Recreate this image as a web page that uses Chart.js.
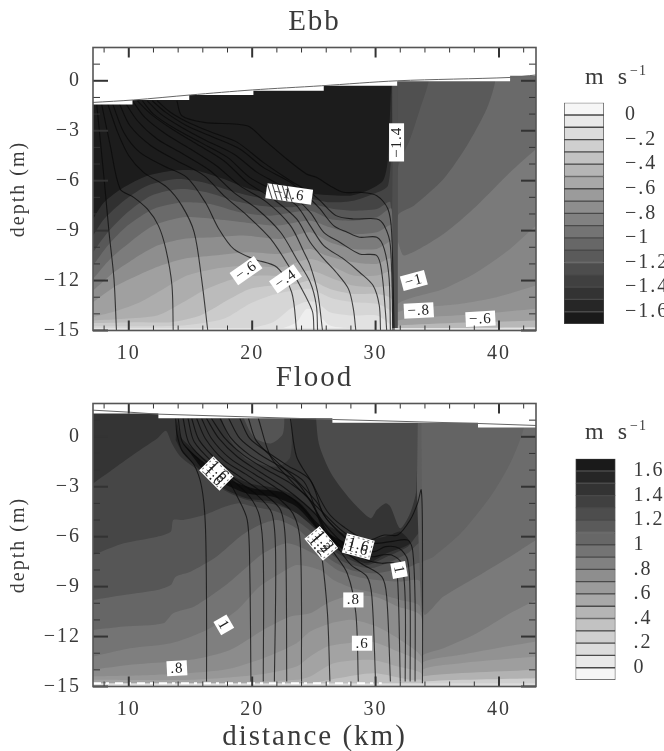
<!DOCTYPE html>
<html>
<head>
<meta charset="utf-8">
<title>Ebb and Flood</title>
<style>
  html, body { margin: 0; padding: 0; background: #fff; }
  body { position: relative; width: 664px; height: 751px; overflow: hidden; }
  canvas { position: absolute; filter: blur(0.45px); }
</style>
<script src="https://cdn.jsdelivr.net/npm/chart.js@4/dist/chart.umd.min.js"></script>
</head>
<body>
<canvas id="ebb" width="556" height="375" style="left:0px;top:0px"></canvas>
<canvas id="flood" width="556" height="399" style="left:0px;top:356px"></canvas>
<canvas id="ebbBar" width="109" height="290" style="left:555px;top:60px"></canvas>
<canvas id="floodBar" width="109" height="290" style="left:555px;top:415px"></canvas>
<script>
// axes
const xTicks = [10, 20, 30, 40];
const xMinor = [8, 12, 14, 16, 18, 22, 24, 26, 28, 32, 34, 36, 38, 42];
const yTicks = [-15, -12, -9, -6, -3, 0];
const yMinor = [-14, -13, -11, -10, -8, -7, -5, -4, -2, -1, 1];

// colour bars: band edges and labels
const barEdges = [0.1, 0, -0.1, -0.2, -0.3, -0.4, -0.5, -0.6, -0.7, -0.8, -0.9, -1, -1.1, -1.2, -1.3, -1.4, -1.5, -1.6, -1.7];
const barGreys = ['#f6f6f6', '#e9e9e9', '#dcdcdc', '#cfcfcf', '#c2c2c2', '#b5b5b5', '#a8a8a8', '#9b9b9b', '#8e8e8e', '#818181', '#747474', '#676767', '#5a5a5a', '#4d4d4d', '#404040', '#333333', '#262626', '#1a1a1a'];
const ebbBarTicks = [0, -0.2, -0.4, -0.6, -0.8, -1, -1.2, -1.4, -1.6];
const ebbBarLabels = ['0', '−.2', '−.4', '−.6', '−.8', '−1', '−1.2', '−1.4', '−1.6'];
const floodBarTicks = [1.6, 1.4, 1.2, 1, 0.8, 0.6, 0.4, 0.2, 0];
const floodBarLabels = ['1.6', '1.4', '1.2', '1', '.8', '.6', '.4', '.2', '0'];

// Ebb: free surface and the stepped top of the model grid
const ebbSurface = [[7.1, -1.3], [10.4, -1.15], [15, -0.85], [20, -0.55], [25.6, -0.3], [31.75, 0], [40.9, 0.2], [43, 0.35]];
const ebbAir = [[7.1, 2], [43, 2], [43, 0.3], [40.9, 0.3], [40.9, -0.02], [31.75, -0.02], [31.75, -0.3], [25.8, -0.3], [25.8, -0.6], [20.1, -0.6], [20.1, -0.86], [14.9, -0.86], [14.9, -1.16], [10.3, -1.16], [10.3, -1.42], [7.1, -1.42]];

// Ebb: filled bands, seaward side of the front (x > 31.7)
const ebbRightBands = [
  [[31.6, 2], [43, 2], [43, -15], [31.6, -15]],
  [[34.3, 2], [34.3, 0], [33.6, -1.7], [32.8, -3.5], [31.8, -5.3], [31.6, -15], [43, -15], [43, 2]],
  [[39.7, 2], [39.7, 0], [39, -1.7], [37.4, -3.9], [35.5, -5.9], [33.1, -7.5], [31.8, -8.1], [31.6, -15], [43, -15], [43, 2]],
  [[43, -4.1], [40.9, -5.5], [38.2, -7.5], [35.5, -9.2], [32.3, -10.5], [31.8, -9.7], [31.6, -15], [43, -15]],
  [[43, -8.7], [40.9, -10.1], [38.2, -11.5], [35.5, -12.5], [31.8, -13.4], [31.6, -15], [43, -15]],
  [[43, -12.3], [39.8, -13], [36.9, -13.4], [31.8, -13.9], [31.6, -15], [43, -15]],
  [[43, -13.7], [38.7, -14], [31.8, -14.4], [31.6, -15], [43, -15]],
  [[43, -14.4], [31.8, -14.7], [31.6, -15], [43, -15]],
  [[43, -14.8], [31.8, -14.9], [31.6, -15], [43, -15]]
];
const ebbRightGreys = ['#505050', '#5a5a5a', '#6a6a6a', '#7a7a7a', '#868686', '#929292', '#a0a0a0', '#b8b8b8', '#dcdcdc'];

// Ebb: filled bands, landward side of the front, from the outer shell inward
const ebbLeftBands = [
  [[7.1, 2], [31.4, 2], [31.4, -15], [7.1, -15]],
  [[7.1, -8.3], [8, -7.3], [9.6, -6.4], [11.5, -5.7], [13.6, -5.4], [15.5, -5.4], [17.7, -5.9], [19.8, -6.5], [22, -6.8], [24.7, -6.8], [27.9, -6.9], [29.3, -6.6], [30.6, -6], [31, -4.7], [31.3, -0.1], [31.6, -15], [7.1, -15]],
  [[7.1, -9.3], [8, -8.3], [9.6, -7.2], [11.5, -6.3], [13.9, -5.9], [16, -6.1], [18.2, -6.6], [20.4, -7], [22.5, -7.2], [24.7, -7.1], [26.3, -7.3], [28.2, -7.2], [29.8, -6.8], [31, -6.3], [31.3, -3.9], [31.6, -15], [7.1, -15]],
  [[7.1, -10.3], [8.3, -9.1], [9.9, -7.9], [11.8, -6.9], [14.2, -6.5], [16.3, -6.7], [18.5, -7.2], [20.6, -7.5], [23.1, -7.6], [24.7, -7.4], [26.6, -7.7], [28.2, -7.8], [30.1, -7.7], [31.2, -7.3], [31.6, -15], [7.1, -15]],
  [[7.1, -11.1], [8.3, -9.9], [9.9, -8.7], [12, -7.7], [14.4, -7.3], [16.6, -7.4], [19, -7.9], [21.5, -8.1], [24.7, -7.8], [26.3, -8.3], [28.2, -8.4], [30.1, -8.2], [31.3, -7.7], [31.6, -15], [7.1, -15]],
  [[7.1, -11.9], [8.5, -10.7], [10.1, -9.7], [12, -8.7], [14.4, -8.2], [16.9, -8.3], [19.3, -8.5], [22, -8.7], [24.7, -8.4], [26.3, -8.8], [28.2, -9.2], [30.1, -9.1], [31.3, -8.7], [31.6, -15], [7.1, -15]],
  [[7.1, -12.6], [8.8, -11.5], [10.4, -10.7], [12.3, -9.9], [14.4, -9.5], [16.9, -9.4], [19.3, -9.3], [22.3, -9.5], [24.7, -9.1], [26.3, -9.7], [28.2, -10.1], [30.1, -10.1], [31.3, -9.7], [31.6, -15], [7.1, -15]],
  [[7.1, -13.3], [8.8, -12.4], [10.7, -11.7], [12.6, -11.1], [14.4, -10.7], [16.9, -10.5], [19.6, -10.3], [22.3, -10.4], [24.7, -10.1], [26, -10.5], [28.2, -10.9], [30.1, -11], [31.3, -10.7], [31.6, -15], [7.1, -15]],
  [[7.1, -14.2], [9.1, -13.8], [10.9, -13.3], [12.8, -12.5], [14.7, -11.7], [16.9, -11.3], [19.6, -11.1], [22.3, -11.2], [24.7, -10.7], [26.3, -11.1], [28.2, -11.7], [30.1, -11.7], [31.3, -11.5], [31.6, -15], [7.1, -15]],
  [[7.1, -14.4], [9.6, -14.3], [12.3, -14.1], [14.4, -13.3], [16.3, -12.5], [18.5, -11.9], [20.6, -11.7], [22.8, -11.7], [24.7, -11.4], [26.6, -11.9], [28.2, -12.3], [30.1, -12.4], [31.3, -12.4], [31.6, -15], [7.1, -15]],
  [[7.1, -14.55], [10.7, -14.5], [13.4, -14.5], [15.8, -14.1], [18.2, -13.1], [19.8, -12.5], [21.7, -12.3], [23.6, -12.2], [24.7, -12], [26.3, -12.5], [28.2, -12.8], [30.1, -12.8], [31.3, -13.1], [31.6, -15], [7.1, -15]],
  [[7.1, -14.75], [14.4, -14.7], [17.7, -14.3], [19.8, -13.4], [21.5, -12.9], [23.3, -12.6], [24.7, -12.5], [26.6, -13.1], [28.2, -13.3], [30.1, -13.4], [31.3, -13.9], [31.6, -15], [7.1, -15]],
  [[12, -14.95], [19, -14.95], [21.7, -14.5], [23.1, -13.7], [24.2, -13.3], [25.2, -13.3], [26.3, -13.9], [28.2, -14.1], [30.1, -14.1], [31.3, -14.7], [31.6, -15], [12, -15]],
  [[22, -15], [23.6, -14.5], [24.4, -13.7], [25.2, -13.9], [26.3, -14.7], [28.5, -14.9], [29, -15]]
];
const ebbLeftGreys = ['#1c1c1c', '#303030', '#444444', '#585858', '#6a6a6a', '#7c7c7c', '#8e8e8e', '#a0a0a0', '#adadad', '#bbbbbb', '#cbcbcb', '#d6d6d6', '#e2e2e2', '#eeeeee'];
const ebbFront = [[31.35, 2], [31.8, 2], [31.8, -15], [31.35, -15]];
const ebbSeabed = [[7.1, -14.85], [43, -14.85], [43, -15], [7.1, -15]];

// Ebb: contour lines
const ebbContours = [
  [[7.4, -1.4], [8, -5.9], [8.4, -9.1], [8.8, -11.9], [9, -15]],
  [[7.8, -1.4], [8.5, -3.9], [9.3, -6.5], [10.4, -7], [11.5, -7.7], [12.4, -8.7], [13, -10.1], [13.5, -12.3], [13.6, -15]],
  [[8.3, -1.4], [9.1, -3.1], [10, -4.5], [11.2, -5.5], [13.1, -6.4], [14.3, -7.5], [15.3, -9.1], [15.9, -11.9], [16.4, -15]],
  [[8.7, -1.4], [9.6, -3.1], [10.9, -4.3], [12.8, -5.1], [14.7, -5.8], [16.2, -7.3], [17.3, -8.9], [18.5, -10.1], [20.1, -10.7], [22, -11.2], [23.2, -12.7], [23.6, -15]],
  [[9.2, -1.3], [10.1, -2.7], [11.8, -3.9], [13.9, -4.8], [16.1, -5.7], [17.7, -6.9], [19.6, -8.1], [21.5, -9.5], [23.1, -11.3], [24.3, -12.9], [24.9, -13.9], [25, -15]],
  [[9.7, -1.3], [10.7, -2.4], [12.3, -3.5], [14.4, -4.4], [16.6, -5.4], [18.5, -6.7], [20.4, -7.7], [22.3, -9.1], [23.6, -10.7], [24.7, -12.1], [25.2, -13.5], [25.3, -15]],
  [[10.3, -1.2], [11.3, -2.2], [13, -3.2], [15, -4.1], [17.1, -5.1], [19, -6.3], [21.2, -7.3], [23.1, -8.7], [24.2, -10.3], [24.7, -11.1], [25.3, -12.7], [25.7, -15]],
  [[10.7, -1.2], [11.8, -2], [13.5, -2.9], [15.5, -3.8], [17.7, -4.8], [19.6, -6.1], [21.7, -7.1], [23.6, -8.3], [24.7, -9.7], [25.8, -10.7], [26.8, -11.5], [27.8, -12.5], [28.2, -13.7], [28.4, -15]],
  [[11.1, -1.2], [12, -2], [13.8, -2.9], [15.8, -3.7], [18, -4.6], [19.8, -5.8], [22, -6.7], [23.6, -7.5], [24.7, -8.7], [25.8, -9.9], [27.4, -10.7], [28.7, -11.5], [29.8, -12.3], [30.3, -13.5], [30.4, -15]],
  [[11.5, -1.2], [12.6, -2], [14.3, -2.8], [16.3, -3.6], [18.5, -4.4], [20.4, -5.5], [22.5, -6.4], [24.7, -7.9], [25.8, -9.1], [27.1, -9.7], [28.7, -10.4], [30.1, -10.5], [30.5, -11.5], [30.8, -13.9], [30.9, -15]],
  [[11.9, -1.2], [13, -1.9], [14.7, -2.7], [16.9, -3.4], [19, -4.1], [20.9, -5.2], [23.1, -6.1], [24.7, -7.1], [25.5, -7.7], [26.6, -8.7], [27.7, -9.1], [28.7, -9.4], [30.1, -9.4], [30.7, -10.1], [31.1, -11.9], [31.2, -15]],
  [[12.3, -1.2], [13.4, -1.9], [15.1, -2.6], [17.1, -3.2], [18.8, -3.7], [20.9, -4.9], [23.1, -6], [24.7, -6.7], [25.5, -7.2], [26.8, -8.1], [28.2, -8.3], [30.1, -8.3], [30.7, -8.7], [31.2, -9.9], [31.4, -15]],
  [[13.9, -1.2], [14.3, -2.1], [16.1, -2.5], [19.6, -2.7], [20.9, -3.5], [22.8, -4.7], [24.4, -5.6], [25.2, -5.8], [26.3, -6.3], [27.4, -6.7], [28.7, -6.7], [30.1, -6.9], [31, -7.7], [31.3, -9.1], [31.5, -15]]
];

// Flood: free surface and the stepped top of the model grid
const floodSurface = [[7.1, 1.6], [10, 1.48], [12.4, 1.36], [26.5, 1.04], [38.3, 0.8], [43, 0.68]];
const floodAir = [[7.1, 2], [43, 2], [43, 0.56], [38.3, 0.56], [38.3, 0.84], [26.5, 0.84], [26.5, 1.12], [12.4, 1.12], [12.4, 1.4], [7.1, 1.4]];

// Flood: filled bands, seaward side of the front (x > 33.7)
const floodRightBands = [
  [[33.7, 2], [43, 2], [43, -15], [33.7, -15]],
  [[42, 2], [42, 0.5], [40.9, -1.6], [39.3, -3.6], [36.9, -5.8], [34.7, -7.2], [33.75, -7.6], [33.75, -15], [43, -15], [43, 2]],
  [[43, -6.2], [40.9, -7.2], [38.2, -8.4], [35.5, -9.6], [34, -10.7], [33.75, -9.8], [33.75, -15], [43, -15]],
  [[43, -9.8], [40.9, -10.6], [38.2, -11.8], [35.5, -12.7], [33.75, -13.2], [33.75, -15], [43, -15]],
  [[43, -12.3], [39.8, -12.7], [36.9, -13.1], [33.75, -13.6], [33.75, -15], [43, -15]],
  [[43, -13.2], [36.9, -13.6], [33.75, -14], [33.75, -15], [43, -15]],
  [[43, -14], [33.75, -14.4], [33.75, -15], [43, -15]],
  [[43, -14.5], [33.75, -14.7], [33.75, -15], [43, -15]]
];
const floodRightGreys = ['#646464', '#6c6c6c', '#7a7a7a', '#868686', '#929292', '#9e9e9e', '#b2b2b2', '#cfcfcf'];

// Flood: filled bands, landward side, from the top of the water column down
const floodLeftBands = [
  [[7.1, 2], [33.7, 2], [33.7, -15], [7.1, -15]],
  [[7.1, -2.8], [8.8, -1.9], [10.7, -0.9], [12.3, -0.1], [13, 0.36], [13.5, -0.4], [14.2, -1.2], [15.8, -2.1], [17.7, -3.2], [19.6, -3.8], [22, -4.1], [24.2, -4.8], [25.5, -5.8], [25.8, -6.4], [27.4, -7.2], [29.3, -7.7], [30.9, -7.2], [32.6, -6.6], [33.6, -5.8], [33.7, -15], [7.1, -15]],
  [[7.1, -7.1], [9.6, -6.4], [12.3, -6], [13.4, -5.7], [13.6, -5], [14.4, -5], [16.1, -4.7], [17.4, -4.3], [18.8, -4], [20.1, -4.2], [22, -4.5], [23.9, -5.2], [25.5, -6.2], [26.1, -6.9], [27.7, -7.6], [29.6, -7.9], [30.9, -7.6], [32.6, -7], [33.6, -6.4], [33.7, -15], [7.1, -15]],
  [[7.1, -9.8], [9.6, -9.5], [12.3, -9.2], [13.4, -8.9], [13.8, -8.4], [15, -8.1], [17.1, -7.2], [19, -6], [20.6, -5.3], [22, -5], [23.6, -5.5], [25.2, -6.6], [26.4, -7.4], [28, -8], [29.9, -8.2], [31.5, -8], [32.8, -7.8], [33.6, -7.6], [33.7, -15], [7.1, -15]],
  [[7.1, -11.6], [9.6, -11.4], [12.8, -11.2], [13.6, -10.6], [15.3, -10.2], [17.7, -9], [19.6, -7.8], [20.9, -7], [22.8, -6.4], [24.4, -6.8], [25.8, -7.4], [26.9, -8], [28.5, -8.4], [30.1, -8.6], [32, -8.7], [33.6, -8.7], [33.7, -15], [7.1, -15]],
  [[7.1, -13.2], [10.1, -12.7], [13.4, -12.4], [16.3, -11.6], [18.8, -10.4], [20.6, -9], [22.3, -8.2], [23.6, -7.7], [25.5, -8], [26.6, -8.6], [28.2, -9.1], [30.1, -9.4], [32, -9.8], [33.6, -10.2], [33.7, -15], [7.1, -15]],
  [[7.1, -14], [10.1, -13.7], [15, -13.4], [18.2, -12.8], [20.9, -11.6], [23.1, -10.8], [24.7, -10.6], [26.1, -10], [27.7, -9.6], [29.9, -9.6], [31.8, -10.2], [33.7, -10.8], [33.7, -15], [7.1, -15]],
  [[7.1, -14.4], [12.3, -14.3], [17.7, -14], [20.9, -13.3], [23.6, -12.4], [24.7, -11.7], [26.4, -11.2], [28.2, -11], [30.1, -11.4], [32, -12.2], [33.7, -13.2], [33.7, -15], [7.1, -15]],
  [[7.1, -14.6], [15, -14.6], [20.4, -14.3], [23.6, -13.8], [24.7, -13.2], [26.1, -12.6], [27.7, -12.4], [29.6, -12.3], [31.5, -12.8], [33.7, -13.6], [33.7, -15], [7.1, -15]],
  [[7.1, -14.8], [17.7, -14.8], [23.6, -14.6], [24.7, -14.4], [26.6, -13.6], [29.6, -13.4], [31.8, -13.8], [33.7, -14.2], [33.7, -15], [7.1, -15]],
  [[7.1, -14.85], [24.7, -14.8], [26.9, -14.5], [29.9, -14.2], [32.8, -14.6], [33.7, -14.6], [33.7, -15], [7.1, -15]]
];
const floodLeftGreys = ['#343434', '#464646', '#565656', '#666666', '#747474', '#7f7f7f', '#8c8c8c', '#979797', '#a3a3a3', '#afafaf', '#c0c0c0'];

// Flood: patches above the jet and the jet core
const floodUpperBands = [
  [[17.1, 2], [18.2, -0.2], [19.6, -1.4], [22, -1.8], [23.1, -1.2], [23.2, 2]],
  [[18.8, 2], [20.1, 0], [21.5, -0.4], [22.5, 0.2], [22.6, 2]],
  [[25.1, 2], [25.4, -0.4], [26.4, -2.2], [28, -3.8], [29.6, -4.9], [30.1, -4.4], [30.8, -4], [31.2, -4.2], [32, -5.5], [32.8, -4.6], [33.3, -3.2], [33.4, 2]],
  [[33.4, 2], [33.75, 2], [33.75, -10.5], [33.5, -6.5], [33.35, -3.2]],
  [[13.9, 1], [14.2, 0], [15, -0.6], [16.3, -1.4], [18, -2.2], [19.8, -2.8], [22, -3.1], [23.6, -3.6], [25.2, -4.6], [26.1, -5.3], [27.4, -5.8], [29.3, -6.2], [31.2, -5.9], [32, -5.7], [32.8, -6.4], [30.9, -7], [29.3, -7.6], [27.4, -7], [25.8, -6.2], [25.2, -5.6], [23.6, -4.6], [21.7, -3.9], [19.6, -3.7], [17.7, -3.1], [15.8, -2], [14.4, -1], [13.8, -0.2]],
  [[14.4, -0.4], [16.1, -1.6], [18.2, -2.6], [20.1, -3.1], [22.3, -3.3], [23.9, -4], [25.2, -5.1], [26.4, -5.9], [27.7, -6.4], [29.3, -7], [27.4, -6.7], [25.8, -6], [25.2, -5.5], [23.6, -4.2], [21.7, -3.6], [19.6, -3.4], [17.7, -2.8], [15.8, -1.8]]
];
const floodUpperGreys = ['#404040', '#545454', '#4c4c4c', '#5e5e5e', '#232323', '#0e0e0e'];
const floodSeabed = [[7.1, -14.8], [43, -14.8], [43, -15], [7.1, -15]];
const floodSeabedDashes = [[7.1, -14.8], [30.5, -14.8]];

// Flood: contour lines
const floodContours = [
  [[13.8, 1.1], [13.9, 0.2], [14.3, -0.8], [15.3, -1.7], [15.9, -3], [16.2, -5.2], [16.3, -9.8], [16.3, -14.7]],
  [[14, 1.1], [14.4, -0.4], [16.3, -1.7], [18, -2.6], [18.8, -3.6], [19.6, -5], [19.8, -7.8], [19.9, -14.7]],
  [[14.4, 1.1], [14.9, -0.4], [16.6, -1.7], [18.2, -2.5], [19.8, -3.6], [20.6, -4.8], [20.9, -7.2], [20.9, -14.7]],
  [[14.8, 1.1], [15.3, -0.3], [16.9, -1.6], [18.5, -2.5], [20.4, -3.5], [21.6, -4.6], [21.9, -7.2], [21.8, -14.7]],
  [[15.1, 1.1], [15.7, -0.2], [17.3, -1.5], [19, -2.4], [20.9, -3.4], [22.3, -4.4], [22.7, -6.4], [22.8, -14.7]],
  [[15.5, 1.1], [16.2, -0.1], [17.7, -1.4], [19.6, -2.3], [21.5, -3.3], [23.3, -4.6], [23.9, -6.4], [24, -14.7]],
  [[15.9, 1.1], [16.7, -0.1], [18.2, -1.3], [20.1, -2.2], [22, -3.1], [23.7, -4], [25.2, -5.4], [25.6, -6.9], [26.1, -10.6], [26.3, -14.7]],
  [[16.3, 1.1], [17.3, -0.1], [18.8, -1.2], [20.6, -2.1], [22.5, -3], [24.2, -4], [25.5, -5], [26.4, -6.7], [27.7, -8.2], [28.4, -10.6], [28.6, -14.7]],
  [[16.7, 1.1], [17.8, -0.1], [19.3, -1.1], [21.2, -2], [23.1, -2.8], [24.7, -3.8], [25.8, -5.6], [26.7, -6.4], [28, -7.7], [29.3, -8.4], [29.7, -9.6], [30, -14.7]],
  [[17.4, 1.1], [18.3, -0.1], [19.8, -1.1], [21.7, -1.9], [23.6, -2.7], [25.2, -4.5], [26.1, -5.7], [27.4, -6.8], [28.8, -7.6], [30.5, -8.4], [30.9, -9.6], [31.2, -14.7]],
  [[18.1, 1.1], [19, -0.1], [20.5, -1], [22.3, -1.8], [24.2, -2.7], [25.3, -4.6], [26.4, -5.7], [27.7, -6.6], [29.3, -7.4], [30.5, -7.6], [31.5, -7.6], [31.8, -8.8], [32, -14.7]],
  [[19, 1.1], [19.8, -0.1], [21.2, -0.9], [22.8, -1.7], [24.7, -2.6], [25.8, -4.7], [27.2, -5.8], [28.5, -6.6], [29.7, -7.2], [30.5, -7.1], [31.3, -7.1], [32.1, -7.6], [32.4, -9.8], [32.4, -14.7]],
  [[19.7, 1.1], [20.3, -0.2], [21.7, -1.3], [23.3, -2.4], [25.2, -3.9], [26.1, -5], [27.4, -6], [28.8, -6.8], [29.9, -6.9], [30.8, -6.6], [31.9, -6.7], [32.6, -7.4], [32.8, -9.8], [32.8, -14.7]],
  [[20.5, 1.1], [21.5, -1.2], [23.1, -2.6], [24.7, -3.8], [25.8, -4.6], [27.2, -5.6], [28.5, -6.2], [29.9, -6.4], [31.2, -6.3], [32.6, -6.2], [33, -6.8], [33.2, -9.8], [33.2, -14.7]],
  [[23.1, 1.1], [23.6, -1.2], [24.8, -2.7], [26.1, -4.5], [27.4, -5.4], [29.3, -6.2], [30.7, -5.9], [31.8, -5.9], [32.8, -5], [33.4, -4], [33.7, -3.2], [33.8, -5.8], [33.8, -14.8]]
];

// contour labels: text, position in km and m, rotation on the page, how many labels pile up
const ebbLabelText = ['−.6', '−.4', '−1.6', '−1.4', '−1', '−.8', '−.6'];
const ebbLabelAt = [[19.5, -11.4], [22.7, -11.9], [23, -6.8], [31.7, -3.7], [33.1, -12], [33.5, -13.8], [38.5, -14.3]];
const ebbLabelTurn = [-35, -35, 8, -90, -15, -3, -3];
const ebbLabelPile = [1, 1, 1, 1, 1, 1, 1];
const ebbLabelHatch = [false, false, true, false, false, false, false];
const floodLabelText = ['1.6', '1.2', '1.6', '1', '.8', '.6', '1', '.8'];
const floodLabelAt = [[17.1, -2.2], [25.6, -6.4], [28.6, -6.6], [31.9, -8], [28.2, -9.8], [28.9, -12.4], [17.7, -11.3], [13.9, -13.9]];
const floodLabelTurn = [45, 50, 15, 80, 0, 0, 60, -3];
const floodLabelPile = [3, 3, 2, 1, 1, 1, 1, 1];
const floodLabelHatch = [false, false, false, false, false, false, false, false];

const serif = '"Liberation Serif", serif';
const ink = '#3a3a3a';
const spacing = '2px';

const widenText = {
  id: 'widenText',
  beforeLayout(chart) { chart.ctx.letterSpacing = spacing; },
  beforeDraw(chart) { chart.ctx.letterSpacing = spacing; }
};

function toPoints(list) {
  return list.map(([x, y]) => ({ x, y }));
}

// corners on the frame are tripled so the spline stays sharp there
function withCorners(list) {
  const out = [];
  list.forEach(p => {
    const corner = p[1] === -15 || p[1] === 2;
    out.push(p);
    if (corner) out.push(p, p);
  });
  return out;
}

function band(list, grey, smooth = 0.25) {
  return { data: toPoints(withCorners(list)), showLine: true, fill: 'shape', backgroundColor: grey, borderColor: grey, borderWidth: 0, pointRadius: 0, tension: smooth };
}

function line(list, colour, width, smooth = 0.3) {
  return { data: toPoints(list), showLine: true, fill: false, borderColor: colour, borderWidth: width, pointRadius: 0, tension: smooth };
}

// inward ticks, frame and the white contour labels on top of the field
function panelDressing(labelText, labelAt, labelTurn, labelPile, labelHatch) {
  return {
    id: 'panelDressing',
    afterDatasetsDraw(chart) {
      const { ctx, chartArea: a, scales: { x, y } } = chart;
      ctx.save();
      labelText.forEach((text, i) => {
        const px = x.getPixelForValue(labelAt[i][0]);
        const py = y.getPixelForValue(labelAt[i][1]);
        const pile = labelPile[i];
        ctx.save();
        ctx.translate(px, py);
        ctx.rotate(labelTurn[i] * Math.PI / 180);
        ctx.font = '15px ' + serif;
        ctx.letterSpacing = '1px';
        const w = ctx.measureText(text).width + 7 + (labelHatch[i] ? 8 : 0);
        const h = pile > 1 ? 20 : 15;
        ctx.fillStyle = '#fff';
        ctx.fillRect(-w / 2, -h / 2, w, h);
        ctx.fillStyle = '#222';
        ctx.textAlign = 'center';
        ctx.textBaseline = 'middle';
        for (let k = 0; k < pile; k++) {
          ctx.fillText(text, 0, 0.5 + (k - (pile - 1) / 2) * 4);
        }
        if (pile > 1) {
          ctx.strokeStyle = 'rgba(30,30,30,0.6)';
          ctx.lineWidth = 1;
          ctx.setLineDash([2, 3]);
          ctx.strokeRect(-w / 2 + 1.5, -h / 2 + 1.5, w - 3, h - 3);
          ctx.setLineDash([]);
        }
        if (labelHatch[i]) {
          ctx.strokeStyle = '#444';
          ctx.lineWidth = 1;
          for (let d = -w / 2; d < -3; d += 5) {
            ctx.beginPath();
            ctx.moveTo(d, -h / 2);
            ctx.lineTo(d + 7, h / 2);
            ctx.stroke();
          }
        }
        ctx.restore();
      });
      ctx.strokeStyle = '#333';
      const tick = (x0, y0, x1, y1, w) => {
        ctx.lineWidth = w;
        ctx.beginPath();
        ctx.moveTo(x0, y0);
        ctx.lineTo(x1, y1);
        ctx.stroke();
      };
      const vertical = (v, len, w) => {
        const p = x.getPixelForValue(v);
        tick(p, a.top, p, a.top + len, w);
        tick(p, a.bottom, p, a.bottom - len, w);
      };
      const horizontal = (v, len, w) => {
        const p = y.getPixelForValue(v);
        tick(a.left, p, a.left + len, p, w);
        tick(a.right, p, a.right - len, p, w);
      };
      xTicks.forEach(v => vertical(v, 10, 2));
      xMinor.forEach(v => vertical(v, 5, 1));
      yTicks.forEach(v => horizontal(v, 15, 2));
      yMinor.forEach(v => horizontal(v, 7, 1));
      ctx.strokeStyle = '#555';
      ctx.lineWidth = 1.6;
      ctx.strokeRect(a.left, a.top, a.right - a.left, a.bottom - a.top);
      ctx.restore();
    }
  };
}

function drawPanel(id, titleText, datasets, axisHeight, xTitle, dressing) {
  datasets.forEach((d, i) => { d.order = datasets.length - i; });
  return new Chart(document.getElementById(id), {
    type: 'scatter',
    data: { datasets },
    plugins: [widenText, dressing],
    options: {
      responsive: false,
      animation: false,
      events: [],
      layout: { padding: { right: 20 } },
      plugins: {
        legend: { display: false },
        tooltip: { enabled: false },
        title: {
          display: true,
          text: titleText,
          fullSize: false,
          color: ink,
          font: { family: serif, size: 29, weight: 'normal' },
          padding: { top: 4.6, bottom: 8.1 }
        }
      },
      scales: {
        x: {
          type: 'linear',
          min: 7.1,
          max: 43,
          grid: { display: false },
          border: { display: false },
          afterBuildTicks: s => { s.ticks = xTicks.map(value => ({ value })); },
          afterFit: s => { s.height = axisHeight; },
          ticks: { color: ink, padding: 3.5, maxRotation: 0, autoSkip: false, font: { family: serif, size: 20 } },
          title: { display: !!xTitle, text: xTitle, color: ink, padding: { top: 0, bottom: 0 }, font: { family: serif, size: 29 } }
        },
        y: {
          type: 'linear',
          min: -15,
          max: 2,
          grid: { display: false },
          border: { display: false },
          afterBuildTicks: s => { s.ticks = yTicks.map(value => ({ value })); },
          afterFit: s => { s.width = 93; },
          ticks: {
            color: ink,
            padding: 4,
            autoSkip: false,
            font: { family: serif, size: 20 },
            callback: v => String(v).replace('-', '−')
          },
          title: { display: true, text: 'depth (m)', color: ink, padding: { top: 7, bottom: 0 }, font: { family: serif, size: 20 } }
        }
      }
    }
  });
}

function drawBar(id, edges, greys, tickValues, tickLabels, axisWidth, padding, padLabel) {
  const unitLabel = {
    id: 'unitLabel',
    afterDraw(chart) {
      const { ctx } = chart;
      ctx.save();
      ctx.fillStyle = ink;
      ctx.textBaseline = 'alphabetic';
      ctx.font = '24px ' + serif;
      ctx.letterSpacing = '4px';
      ctx.fillText('m s', 30, 24);
      ctx.font = '14px ' + serif;
      ctx.letterSpacing = '1px';
      ctx.fillText('−1', 75, 15);
      ctx.restore();
    }
  };
  return new Chart(document.getElementById(id), {
    type: 'bar',
    data: {
      labels: ['m s−1'],
      datasets: greys.map((grey, i) => ({
        data: [[edges[i + 1], edges[i]]],
        backgroundColor: grey,
        borderColor: '#4a4a4a',
        borderWidth: 1,
        borderSkipped: false,
        grouped: false,
        barPercentage: 1,
        categoryPercentage: 1
      }))
    },
    plugins: [widenText, unitLabel],
    options: {
      responsive: false,
      animation: false,
      events: [],
      layout: { padding },
      plugins: { legend: { display: false }, tooltip: { enabled: false } },
      scales: {
        x: { display: false },
        y: {
          position: 'right',
          min: Math.min(...edges),
          max: Math.max(...edges),
          grid: { display: false },
          border: { display: false },
          afterBuildTicks: s => { s.ticks = tickValues.map(value => ({ value })); },
          afterFit: s => { s.width = axisWidth; },
          ticks: {
            color: ink,
            padding: padLabel,
            autoSkip: false,
            font: { family: serif, size: 20 },
            callback: v => tickLabels[tickValues.findIndex(t => Math.abs(t - v) < 1e-6)]
          }
        }
      }
    }
  });
}

const contourInk = 'rgba(8,8,8,0.72)';
const ebbSets = [
  ...ebbRightBands.map((b, i) => band(b, ebbRightGreys[i])),
  ...ebbLeftBands.map((b, i) => band(b, ebbLeftGreys[i])),
  band(ebbFront, '#4e4e4e', 0),
  band(ebbSeabed, '#e4e4e4', 0),
  ...ebbContours.map(c => line(c, contourInk, 1.1)),
  band(ebbAir, '#ffffff', 0),
  line(ebbSurface, '#666', 1)
];
const floodSets = [
  ...floodRightBands.map((b, i) => band(b, floodRightGreys[i])),
  ...floodLeftBands.map((b, i) => band(b, floodLeftGreys[i])),
  ...floodUpperBands.map((b, i) => band(b, floodUpperGreys[i])),
  band(floodSeabed, '#dcdcdc', 0),
  Object.assign(line(floodSeabedDashes, '#ffffff', 2, 0), { borderDash: [8, 5, 3, 6] }),
  ...floodContours.map(c => line(c, contourInk, 1.1)),
  band(floodAir, '#ffffff', 0),
  line(floodSurface, '#666', 1, 0)
];

drawPanel('ebb', 'Ebb', ebbSets, 44.5, '', panelDressing(ebbLabelText, ebbLabelAt, ebbLabelTurn, ebbLabelPile, ebbLabelHatch));
drawPanel('flood', 'Flood', floodSets, 68.5, 'distance (km)', panelDressing(floodLabelText, floodLabelAt, floodLabelTurn, floodLabelPile, floodLabelHatch));
drawBar('ebbBar', barEdges, barGreys, ebbBarTicks, ebbBarLabels, 60, { left: 9, top: 42.7, bottom: 26 }, 13);
drawBar('floodBar', barEdges.map(v => -v), barGreys, floodBarTicks, floodBarLabels, 48.5, { left: 20.5, top: 43.7, bottom: 25 }, 10);
</script>
</body>
</html>
